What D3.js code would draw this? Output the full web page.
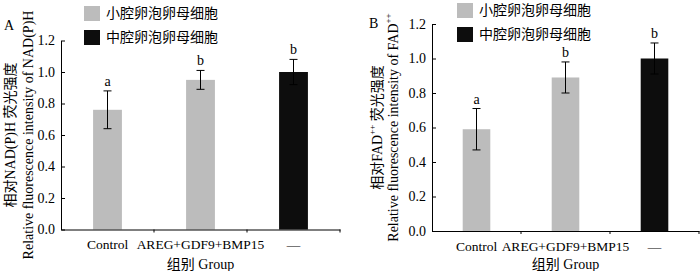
<!DOCTYPE html>
<html>
<head>
<meta charset="utf-8">
<script src="https://cdn.jsdelivr.net/npm/d3@7"></script>
<style>
  body { margin: 0; background: #fff; }
  text { font-family: "Liberation Serif", "Noto Sans CJK SC", serif; fill: #000; }
</style>
</head>
<body>
<script>
const categories = ["Control", "AREG+GDF9+BMP15", "—"];
const groups = ["小腔卵泡卵母细胞", "小腔卵泡卵母细胞", "中腔卵泡卵母细胞"];
const legendKeys = ["小腔卵泡卵母细胞", "中腔卵泡卵母细胞"];
const yTicks = [0, 0.2, 0.4, 0.6, 0.8, 1.0, 1.2];

const valuesA = [0.76, 0.95, 1.0];
const errorsA = [0.12, 0.06, 0.08];
const lettersA = ["a", "b", "b"];

const valuesB = [0.59, 0.89, 1.0];
const errorsB = [0.12, 0.09, 0.09];
const lettersB = ["a", "b", "b"];

const width = 700;
const height = 271;

const svg = d3.select("body").append("svg")
  .attr("width", width)
  .attr("height", height);

const color = d3.scaleOrdinal().domain(legendKeys).range(["#bcbcbc", "#0d0d0d"]);

const drawPanel = (p) => {
  const g = svg.append("g");

  const x = d3.scaleBand().domain(categories).range([p.left, p.right]).paddingInner(0).paddingOuter(0);
  const y = d3.scaleLinear().domain([0, 1.2]).range([p.bottom, p.top]);
  const bw = x.bandwidth() * 0.31;
  const cx = (i) => x(categories[i]) + x.bandwidth() / 2;

  // bars
  g.selectAll("rect.bar")
    .data(p.values)
    .enter()
    .append("rect")
    .attr("x", (d, i) => cx(i) - bw / 2)
    .attr("y", (d) => y(d))
    .attr("width", bw)
    .attr("height", (d) => y(0) - y(d))
    .attr("fill", (d, i) => color(groups[i]));

  // error bars
  const err = g.selectAll("g.err")
    .data(p.values)
    .enter()
    .append("g")
    .attr("stroke", "#000")
    .attr("stroke-width", 1);
  err.append("line")
    .attr("x1", (d, i) => cx(i)).attr("x2", (d, i) => cx(i))
    .attr("y1", (d, i) => y(d - p.errors[i]))
    .attr("y2", (d, i) => y(d + p.errors[i]));
  err.append("line")
    .attr("x1", (d, i) => cx(i) - 4).attr("x2", (d, i) => cx(i) + 4)
    .attr("y1", (d, i) => y(d + p.errors[i])).attr("y2", (d, i) => y(d + p.errors[i]));
  err.append("line")
    .attr("x1", (d, i) => cx(i) - 4).attr("x2", (d, i) => cx(i) + 4)
    .attr("y1", (d, i) => y(d - p.errors[i])).attr("y2", (d, i) => y(d - p.errors[i]));

  // significance letters
  g.selectAll("text.sig")
    .data(p.letters)
    .enter()
    .append("text")
    .attr("x", (d, i) => cx(i))
    .attr("y", (d, i) => y(p.values[i] + p.errors[i]) - 5)
    .attr("text-anchor", "middle")
    .attr("font-size", 14)
    .text((d) => d);

  // y axis
  const yAxis = g.append("g")
    .attr("transform", `translate(${p.left},0)`)
    .call(d3.axisLeft(y).tickValues(yTicks).tickFormat(d3.format(".1f")).tickSizeInner(-4).tickSizeOuter(0).tickPadding(6));
  yAxis.select(".domain").attr("stroke", "#000");
  yAxis.selectAll(".tick line").attr("stroke", "#000");
  yAxis.selectAll("text").attr("font-size", 14).attr("font-family", "Liberation Serif").attr("fill", "#000");

  // x axis
  const xAxis = g.append("g")
    .attr("transform", `translate(0,${p.bottom})`)
    .call(d3.axisBottom(x).tickSize(0).tickPadding(10));
  xAxis.select(".domain").attr("stroke", "#000");
  xAxis.selectAll("text").attr("font-size", 13.5).attr("font-family", "Liberation Serif").attr("fill", "#000");
  g.selectAll("line.xtick")
    .data(categories)
    .enter()
    .append("line")
    .attr("x1", (d) => x(d) + x.bandwidth()).attr("x2", (d) => x(d) + x.bandwidth())
    .attr("y1", p.bottom).attr("y2", p.bottom + 3)
    .attr("stroke", "#000");

  // x title
  g.append("text")
    .attr("x", (p.left + p.right) / 2)
    .attr("y", 264)
    .attr("text-anchor", "middle")
    .attr("dominant-baseline", "central")
    .attr("font-size", 14)
    .text("组别  Group");

  // y titles
  const yc = (p.top + p.bottom) / 2;
  const t1 = g.append("text")
    .attr("transform", `translate(${p.yt1},${yc}) rotate(-90)`)
    .attr("text-anchor", "middle")
    .attr("dominant-baseline", "central")
    .attr("font-size", 14);
  t1.append("tspan").text("相对" + p.species);
  if (p.sup) t1.append("tspan").attr("font-size", 9).attr("dy", -5).text(p.sup);
  t1.append("tspan").attr("dy", p.sup ? 5 : 0).text(" 荧光强度");

  const t2 = g.append("text")
    .attr("transform", `translate(${p.yt2},${yc}) rotate(-90)`)
    .attr("text-anchor", "middle")
    .attr("dominant-baseline", "central")
    .attr("font-size", 14);
  t2.append("tspan").text("Relative fluorescence intensity of " + p.species);
  if (p.sup) t2.append("tspan").attr("font-size", 9).attr("dy", -5).text(p.sup);

  // panel label
  g.append("text")
    .attr("x", p.labelX)
    .attr("y", p.labelY)
    .attr("font-size", 14)
    .text(p.label);

  // legend
  const leg = g.selectAll("g.leg")
    .data(legendKeys)
    .enter()
    .append("g")
    .attr("transform", (d, i) => `translate(${p.legX},${p.legY + i * 24})`);
  leg.append("rect")
    .attr("width", 16).attr("height", 15)
    .attr("fill", (d) => color(d));
  leg.append("text")
    .attr("x", 22).attr("y", 7.5)
    .attr("dominant-baseline", "central")
    .attr("font-size", 14)
    .text((d) => d);
};

drawPanel({
  left: 61, right: 340, top: 40.5, bottom: 229.5,
  values: valuesA, errors: errorsA, letters: lettersA,
  species: "NAD(P)H", sup: "",
  yt1: 10, yt2: 28,
  label: "A", labelX: 4, labelY: 30,
  legX: 84, legY: 6
});

drawPanel({
  left: 432, right: 699, top: 24, bottom: 231,
  values: valuesB, errors: errorsB, letters: lettersB,
  species: "FAD", sup: "++",
  yt1: 377, yt2: 393,
  label: "B", labelX: 369, labelY: 28,
  legX: 457, legY: 3
});
</script>
</body>
</html>
